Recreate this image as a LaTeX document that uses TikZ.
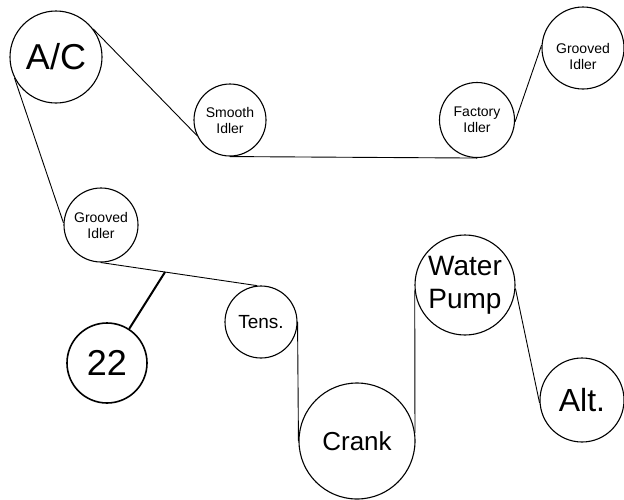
\documentclass[tikz,border=0pt]{standalone}
\usepackage{fontspec}
\setmainfont{Liberation Sans}
\begin{document}
\begin{tikzpicture}[x=1pt,y=-1pt,
  pulley/.style={circle,draw,line width=1.1pt,inner sep=0pt,align=center},
  belt/.style={line width=0.9pt},
  lbl/.style={align=center,inner sep=0pt},
  fsmall/.style={font=\fontsize{14}{16}\selectfont},
  fbig/.style={font=\fontsize{36}{40}\selectfont}]
\useasboundingbox (0,0) rectangle (624,499);
\node[pulley,minimum size=92pt,fbig] (ac) at (56,57) {A/C};
\node[pulley,minimum size=72pt,fsmall] (sm) at (230,120) {Smooth\\Idler};
\node[pulley,minimum size=75pt,fsmall] (fa) at (477,120) {Factory\\Idler};
\node[pulley,minimum size=82pt] (gr) at (583,48) {};
\node[lbl,fsmall] (grt) at (583,56) {Grooved\\Idler};
\node[pulley,minimum size=74pt,fsmall] (gl) at (101,225) {Grooved\\Idler};
\node[pulley,minimum size=80pt,line width=1.6pt,fbig] (n22) at (107,363) {22};
\node[pulley,minimum size=72pt,font=\fontsize{19}{22}\selectfont] (tens) at (261,322) {Tens.};
\node[pulley,minimum size=100pt,font=\fontsize{28}{33}\selectfont] (wp) at (465,285) {Water\\Pump};
\node[pulley,minimum size=116pt,font=\fontsize{26}{30}\selectfont] (cr) at (357,441) {Crank};
\node[pulley,minimum size=84pt,font=\fontsize{32}{36}\selectfont] (alt) at (582,400) {Alt.};
\draw[belt] (ac.207) -- (gl.177);
\draw[belt] (ac.37) -- (sm.205);
\draw[belt] (sm.south) -- (fa.south);
\draw[belt] (fa.357) -- (gr.176);
\draw[belt] (gl.south) -- coordinate[pos=0.41] (j) (tens.96);
\draw[belt] (tens.east) -- (cr.west);
\draw[belt] (cr.8) -- (wp.186);
\draw[belt] (wp.356) -- (alt.184);
\draw[line width=2pt] (j) -- (n22.57);
\end{tikzpicture}
\end{document}
